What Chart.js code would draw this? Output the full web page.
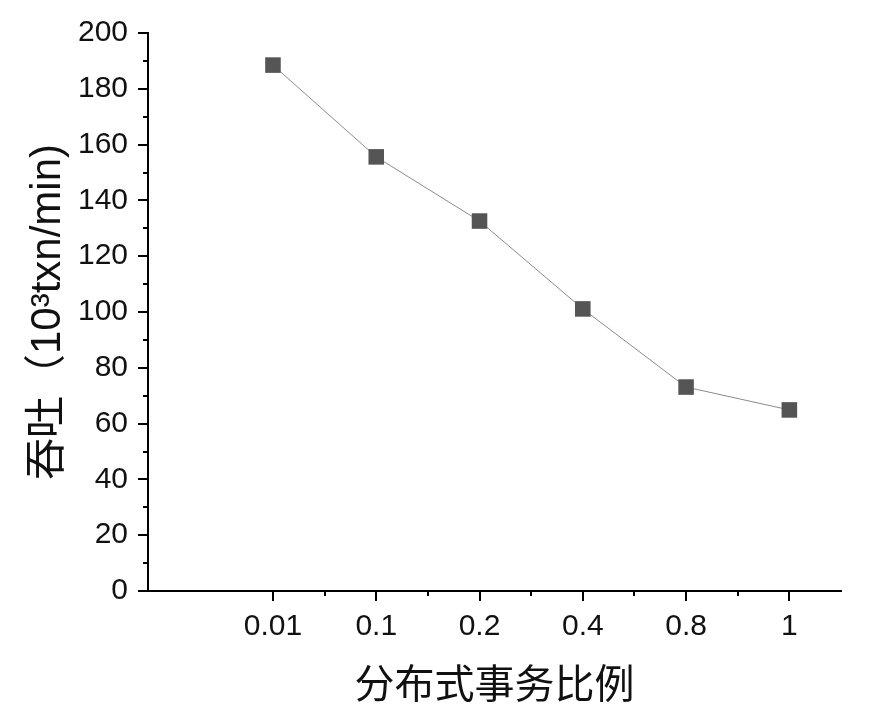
<!DOCTYPE html>
<html>
<head>
<meta charset="utf-8">
<script src="https://cdn.jsdelivr.net/npm/chart.js@4.4.0/dist/chart.umd.min.js"></script>
<style>
  html, body { margin: 0; padding: 0; background: #fff; }
  #wrap { width: 875px; height: 719px; position: relative; }
</style>
</head>
<body>
<div id="wrap"><canvas id="throughputChart"></canvas></div>
<script>
// distributed transaction ratio (evenly spaced categories)
const ratioLabels = ['0.01', '0.1', '0.2', '0.4', '0.8', '1'];
// throughput, 10^3 txn/min
const throughput = [188.5, 155.6, 132.6, 101.1, 73.1, 64.9];
const yTicks = [0, 20, 40, 60, 80, 100, 120, 140, 160, 180, 200];

const numFont = { family: '"Liberation Sans", Arial, sans-serif', size: 30 };
const cjkFont = '"Liberation Sans", "Noto Sans CJK SC", sans-serif';

// short minor ticks between the major ones
const minorTicks = {
    id: 'minorTicks',
    afterDraw(chart) {
        const ctx = chart.ctx;
        const x = chart.scales.x, y = chart.scales.y;
        ctx.save();
        ctx.strokeStyle = '#000';
        ctx.lineWidth = 2;
        ctx.beginPath();
        for (let i = 0; i < yTicks.length - 1; i++) {
            const py = Math.round(y.getPixelForValue((yTicks[i] + yTicks[i + 1]) / 2));
            ctx.moveTo(x.left - 5, py);
            ctx.lineTo(x.left, py);
        }
        for (let i = 0; i < ratioLabels.length - 1; i++) {
            const px = Math.round(x.getPixelForValue(i + 0.5));
            ctx.moveTo(px, y.bottom);
            ctx.lineTo(px, y.bottom + 5);
        }
        ctx.stroke();
        ctx.restore();
    }
};

new Chart(document.getElementById('throughputChart'), {
    type: 'line',
    data: {
        datasets: [{
            data: throughput.map((v, i) => ({ x: i, y: v })),
            borderColor: '#8a8a8a',
            borderWidth: 1,
            pointStyle: 'rect',
            pointRadius: 11,
            pointBackgroundColor: '#555555',
            pointBorderColor: '#555555',
            pointBorderWidth: 0,
            tension: 0
        }]
    },
    options: {
        responsive: true,
        maintainAspectRatio: false,
        animation: false,
        layout: { padding: { top: 33, right: 34, left: 0, bottom: 0 } },
        plugins: { legend: { display: false }, tooltip: { enabled: false } },
        scales: {
            x: {
                type: 'linear',
                min: -1.21,
                max: 5.5,
                afterBuildTicks: s => { s.ticks = ratioLabels.map((_, i) => ({ value: i })); },
                afterFit: s => { s.height = 128; },
                border: { display: true, color: '#000', width: 2 },
                grid: { drawOnChartArea: false, drawTicks: true, tickLength: 10, color: '#000', lineWidth: 2 },
                ticks: {
                    color: '#111',
                    font: numFont,
                    padding: 8,
                    maxRotation: 0,
                    autoSkip: false,
                    callback: v => ratioLabels[v] ?? ''
                },
                title: {
                    display: true,
                    text: '分布式事务比例',
                    color: '#111',
                    font: { family: '"Noto Sans CJK SC", sans-serif', size: 40 },
                    padding: { top: 0, bottom: 12 }
                }
            },
            y: {
                min: 0,
                max: 200,
                afterBuildTicks: s => { s.ticks = yTicks.map(v => ({ value: v })); },
                afterFit: s => { s.width = 148; },
                border: { display: true, color: '#000', width: 2 },
                grid: { drawOnChartArea: false, drawTicks: true, tickLength: 10, color: '#000', lineWidth: 2 },
                ticks: { color: '#111', font: numFont, padding: 10 },
                title: {
                    display: true,
                    text: '吞吐（10³txn/min)',
                    color: '#111',
                    font: { family: cjkFont, size: 42 },
                    padding: { top: 23, bottom: 0 }
                }
            }
        }
    },
    plugins: [minorTicks]
});
</script>
</body>
</html>
